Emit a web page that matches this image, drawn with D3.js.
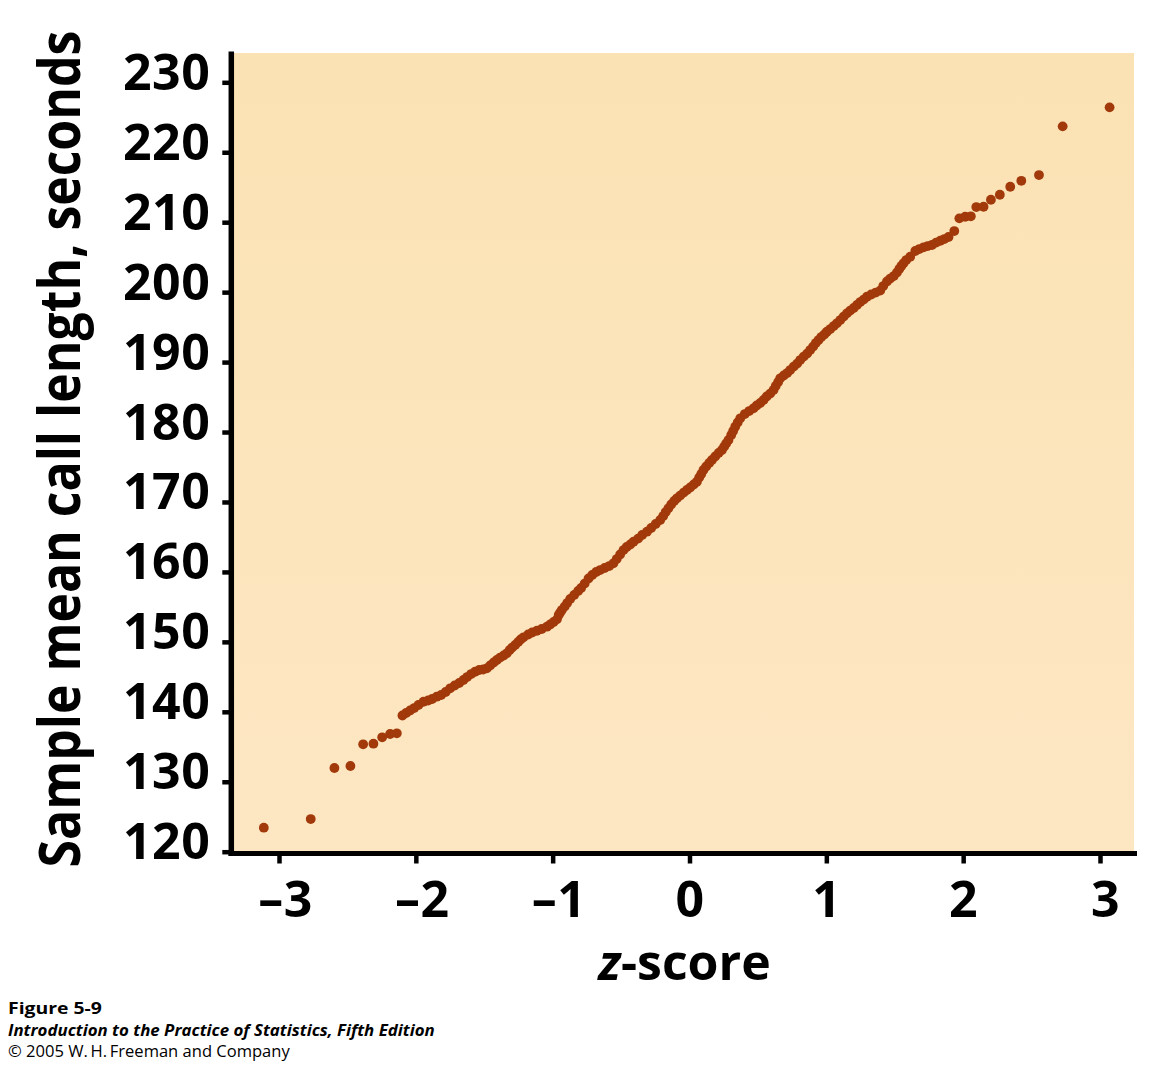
<!DOCTYPE html>
<html>
<head>
<meta charset="utf-8">
<script src="https://cdn.jsdelivr.net/npm/d3@7/dist/d3.min.js"></script>
<style>
  html, body { margin: 0; padding: 0; background: #ffffff; }
  svg { display: block; }
  text { font-family: "Open Sans", "Noto Sans", sans-serif; }
</style>
</head>
<body>
<svg id="chart" width="1167" height="1072"></svg>
<script>
// ---- data ----
const zScores = [
  -3.111, -2.768, -2.595, -2.478, -2.385, -2.310, -2.246, -2.188, -2.139,
  -2.098, -2.071, -2.042, -2.012, -1.981, -1.944, -1.910, -1.881, -1.847, -1.815,
  -1.782, -1.749, -1.716, -1.683, -1.652, -1.625, -1.596, -1.567, -1.537, -1.508,
  -1.481, -1.457, -1.431, -1.408, -1.384, -1.358, -1.335, -1.314, -1.296, -1.274,
  -1.252, -1.234, -1.213, -1.179, -1.150, -1.115, -1.080, -1.042, -1.018, -0.993,
  -0.969, -0.956, -0.945, -0.933, -0.912, -0.894, -0.872, -0.843, -0.814, -0.792,
  -0.766, -0.738, -0.711, -0.682, -0.653, -0.620, -0.587, -0.556, -0.532, -0.507,
  -0.482, -0.459, -0.433, -0.409, -0.375, -0.346, -0.311, -0.280, -0.247, -0.214,
  -0.192, -0.174, -0.154, -0.134, -0.112, -0.092, -0.068, -0.042, -0.019, 0.005,
  0.031, 0.054, 0.071, 0.086, 0.102, 0.122, 0.144, 0.164, 0.188, 0.213,
  0.237, 0.254, 0.268, 0.285, 0.305, 0.319, 0.334, 0.352, 0.371, 0.404,
  0.436, 0.468, 0.491, 0.517, 0.541, 0.564, 0.590, 0.614, 0.630, 0.648,
  0.663, 0.689, 0.714, 0.736, 0.762, 0.787, 0.809, 0.835, 0.860, 0.882,
  0.904, 0.923, 0.943, 0.963, 0.985, 1.004, 1.029, 1.054, 1.077, 1.102,
  1.127, 1.151, 1.175, 1.200, 1.224, 1.248, 1.273, 1.297, 1.328, 1.361,
  1.394, 1.416, 1.443, 1.467, 1.493, 1.516, 1.533, 1.548, 1.564, 1.584,
  1.613, 1.650, 1.679, 1.711, 1.741, 1.772, 1.803, 1.833, 1.862, 1.893,
  1.935, 1.972, 2.015, 2.056, 2.096, 2.149, 2.203, 2.268, 2.344, 2.425,
  2.554, 2.727, 3.070
];
const callMeans = [
  123.43, 124.67, 131.97, 132.25, 135.35, 135.44, 136.35, 136.83, 136.93,
  139.47, 139.83, 140.19, 140.54, 140.97, 141.44, 141.62, 141.83, 142.16, 142.40,
  142.83, 143.36, 143.76, 144.12, 144.55, 144.97, 145.40, 145.73, 145.98, 146.05,
  146.22, 146.62, 147.05, 147.41, 147.76, 148.05, 148.36, 148.83, 149.19, 149.55,
  149.98, 150.34, 150.65, 151.05, 151.34, 151.59, 151.84, 152.17, 152.48, 152.84,
  153.22, 153.84, 154.20, 154.55, 155.05, 155.55, 156.13, 156.70, 157.27, 157.70,
  158.34, 159.06, 159.56, 159.99, 160.27, 160.56, 160.84, 161.23, 161.84, 162.49,
  163.13, 163.56, 163.92, 164.32, 164.77, 165.28, 165.75, 166.28, 166.85, 167.42,
  167.99, 168.56, 169.09, 169.64, 170.14, 170.52, 170.92, 171.35, 171.71, 172.07,
  172.50, 172.89, 173.50, 174.00, 174.57, 175.07, 175.57, 176.00, 176.50, 177.00,
  177.43, 177.93, 178.36, 178.86, 179.57, 180.14, 180.76, 181.36, 181.96, 182.57,
  183.00, 183.39, 183.79, 184.15, 184.58, 185.08, 185.50, 186.00, 186.58, 187.15,
  187.68, 188.08, 188.43, 188.86, 189.36, 189.79, 190.29, 190.79, 191.22, 191.72,
  192.22, 192.72, 193.15, 193.58, 193.94, 194.34, 194.72, 195.15, 195.54, 196.01,
  196.51, 196.97, 197.37, 197.73, 198.16, 198.58, 198.94, 199.34, 199.66, 199.94,
  200.23, 200.87, 201.52, 201.94, 202.30, 202.80, 203.30, 203.73, 204.12, 204.59,
  205.06, 205.88, 206.16, 206.41, 206.59, 206.74, 207.09, 207.35, 207.59, 207.88,
  208.73, 210.55, 210.78, 210.84, 212.16, 212.21, 213.21, 213.92, 215.07, 215.92,
  216.74, 223.70, 226.42
];
const yTicks = [120, 130, 140, 150, 160, 170, 180, 190, 200, 210, 220, 230];
const xTicks = [-3, -2, -1, 0, 1, 2, 3];
const xTickLabels = ["\u20133", "\u20132", "\u20131", "0", "1", "2", "3"];
const xTitle = ["z", "-score"];
const yTitle = "Sample mean call length, seconds";
const footer = [
  "Figure 5-9",
  "Introduction to the Practice of Statistics, Fifth Edition",
  "\u00A9 2005 W.\u2009H.\u2009Freeman and Company"
];

// ---- layout ----
const svg = d3.select("#chart");
const axisX = 231.3;   // y-axis line position
const axisY = 853.5;   // x-axis line position
const plotLeft = 233, plotRight = 1134, plotTop = 53;

const x = d3.scaleLinear().domain([-3, 3]).range([279, 1100]);
const y = d3.scaleLinear().domain([120, 230]).range([851.7, 82.3]);

// background gradient
const defs = svg.append("defs");
const grad = defs.append("linearGradient").attr("id", "bg")
  .attr("x1", 0).attr("y1", 0).attr("x2", 0).attr("y2", 1);
grad.append("stop").attr("offset", "0%").attr("stop-color", "#fbe2b4");
grad.append("stop").attr("offset", "100%").attr("stop-color", "#fde7c3");

svg.append("rect")
  .attr("x", plotLeft).attr("y", plotTop)
  .attr("width", plotRight - plotLeft).attr("height", axisY - plotTop)
  .attr("fill", "url(#bg)");

// points
const pts = zScores.map((z, i) => ({ z, v: callMeans[i] }));
svg.append("g").selectAll("circle").data(pts).join("circle")
  .attr("cx", d => x(d.z))
  .attr("cy", d => y(d.v))
  .attr("r", 4.9)
  .attr("fill", "#a2390a");

// y axis
const gy = svg.append("g").attr("transform", `translate(${axisX},0)`)
  .call(d3.axisLeft(y).tickValues(yTicks).tickSize(9).tickPadding(12).tickFormat(d3.format("d")));
gy.select(".domain").remove();
gy.selectAll(".tick line").attr("stroke", "#000").attr("stroke-width", 4.5);
gy.selectAll(".tick text")
  .attr("fill", "#000")
  .attr("y", -11)
  .attr("dy", "0.36em")
  .style("font-size", "50px")
  .style("font-weight", "700")
  .style("letter-spacing", "0.5px");

// x axis
const gx = svg.append("g").attr("transform", `translate(0,${axisY})`)
  .call(d3.axisBottom(x).tickValues(xTicks).tickSize(10).tickFormat((d, i) => xTickLabels[i]));
gx.select(".domain").remove();
gx.selectAll(".tick line").attr("stroke", "#000").attr("stroke-width", 4.5);
gx.selectAll(".tick text")
  .attr("fill", "#000")
  .attr("y", 63)
  .attr("dy", null)
  .attr("dx", d => d < 0 ? 6 : (d === 3 ? 5 : 0))
  .style("font-size", "50px")
  .style("font-weight", "700")
  .style("letter-spacing", "0.5px");

// axis lines
svg.append("line")
  .attr("x1", axisX).attr("x2", axisX)
  .attr("y1", 51.5).attr("y2", axisY + 2.5)
  .attr("stroke", "#000").attr("stroke-width", 5.5);
svg.append("line")
  .attr("x1", axisX - 2.75).attr("x2", 1137)
  .attr("y1", axisY).attr("y2", axisY)
  .attr("stroke", "#000").attr("stroke-width", 5);

// x title
const xt = svg.append("text")
  .attr("x", 684.5).attr("y", 980)
  .attr("text-anchor", "middle")
  .style("font-size", "50px").style("font-weight", "700").attr("fill", "#000");
xt.append("tspan").style("font-style", "italic").text(xTitle[0]);
xt.append("tspan").text(xTitle[1]);

// y title: condensed via horizontal scale so its box matches the drawn glyphs
const yt = svg.append("text")
  .attr("text-anchor", "middle")
  .style("font-size", "57px").style("font-weight", "700").attr("fill", "#000")
  .text(yTitle);
const ytLen = yt.node().getComputedTextLength();
yt.attr("transform", `translate(80,449) rotate(-90) scale(${837 / ytLen},1)`);

// footer
const fStyles = [
  { w: "700", s: "normal", y: 1014, len: 94 },
  { w: "700", s: "italic", y: 1035.5, len: 427 },
  { w: "400", s: "normal", y: 1057, len: 282 }
];
footer.forEach((t, i) => {
  const ft = svg.append("text")
    .style("font-size", "15.5px")
    .style("font-weight", fStyles[i].w)
    .style("font-style", fStyles[i].s)
    .attr("fill", "#000")
    .text(t);
  const len = ft.node().getComputedTextLength();
  ft.attr("transform", `translate(8,${fStyles[i].y}) scale(${fStyles[i].len / len},1)`);
});
</script>
</body>
</html>
